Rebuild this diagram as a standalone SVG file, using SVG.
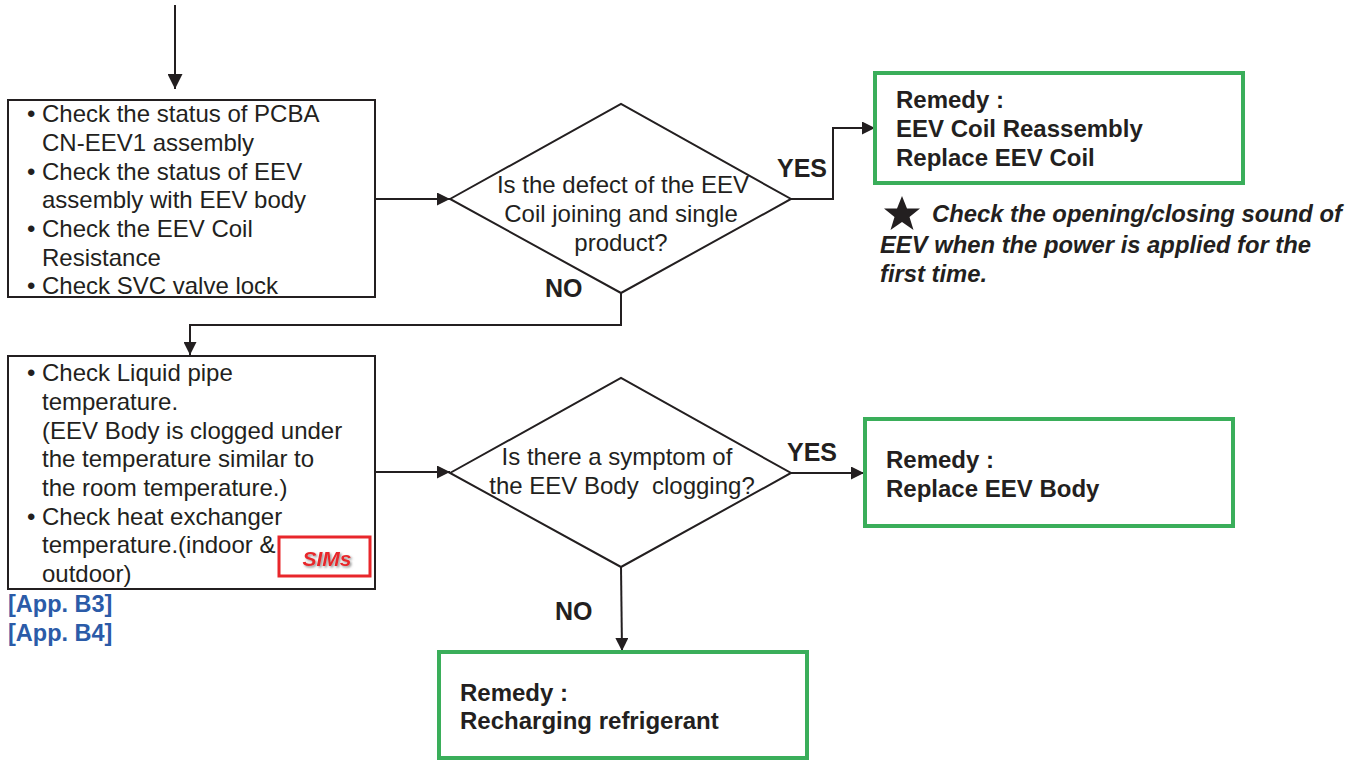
<svg xmlns="http://www.w3.org/2000/svg" width="1369" height="760" viewBox="0 0 1369 760">
<defs>
<marker id="arr" viewBox="0 0 10 10" refX="10" refY="5" markerWidth="14" markerHeight="13" markerUnits="userSpaceOnUse" orient="auto">
<path d="M0,0 L10,5 L0,10 z" fill="#231f20"/>
</marker>
<marker id="arrL" viewBox="0 0 10 10" refX="10" refY="5" markerWidth="16" markerHeight="15" markerUnits="userSpaceOnUse" orient="auto">
<path d="M0,0 L10,5 L0,10 z" fill="#231f20"/>
</marker>
<filter id="sh" x="-10%" y="-10%" width="130%" height="140%">
<feDropShadow dx="1.5" dy="1.5" stdDeviation="0.8" flood-color="#777" flood-opacity="0.8"/>
</filter>
</defs>
<style>
.box{fill:#fff;stroke:#231f20;stroke-width:2}
.rem{fill:#fff;stroke:#3aae5a;stroke-width:4}
.t{font-family:"Liberation Sans",Arial,sans-serif;font-size:24px;fill:#231f20}
.b{font-family:"Liberation Sans",Arial,sans-serif;font-size:24px;font-weight:bold;fill:#231f20}
.lbl{font-family:"Liberation Sans",Arial,sans-serif;font-size:25px;font-weight:bold;fill:#231f20}
.note{font-family:"Liberation Sans",Arial,sans-serif;font-size:23.8px;font-weight:bold;font-style:italic;fill:#231f20}
.app{font-family:"Liberation Sans",Arial,sans-serif;font-size:23.5px;font-weight:bold;fill:#2b5ba8}
.ln{fill:none;stroke:#231f20;stroke-width:2}
</style>
<rect width="1369" height="760" fill="#fff"/>

<g id="connectors">
<path class="ln" d="M175,5 V89" marker-end="url(#arrL)"/>
<path class="ln" d="M375,199 H450" marker-end="url(#arr)"/>
<path class="ln" d="M791,199 H833 V128 H875" marker-end="url(#arr)"/>
<path class="ln" d="M621,293 V325 H190 V355" marker-end="url(#arr)"/>
<path class="ln" d="M375,472 H450" marker-end="url(#arr)"/>
<path class="ln" d="M791,473 H864" marker-end="url(#arr)"/>
<path class="ln" d="M621,567 L622,651" marker-end="url(#arr)"/>
<text class="lbl" x="777" y="177">YES</text>
<text class="lbl" x="545" y="297">NO</text>
<text class="lbl" x="787" y="461">YES</text>
<text class="lbl" x="555" y="620">NO</text>
</g>

<g id="check1">
<rect class="box" x="8" y="100" width="367" height="197"/>
<text class="t"><tspan x="27" y="122">•</tspan><tspan x="42" y="122">Check the status of PCBA</tspan><tspan x="42" y="151">CN-EEV1 assembly</tspan><tspan x="27" y="180">•</tspan><tspan x="42" y="180">Check the status of EEV</tspan><tspan x="42" y="208">assembly with EEV body</tspan><tspan x="27" y="237">•</tspan><tspan x="42" y="237">Check the EEV Coil</tspan><tspan x="42" y="266">Resistance</tspan><tspan x="27" y="294">•</tspan><tspan x="42" y="294">Check SVC valve lock</tspan></text>
</g>

<g id="decision1">
<polygon class="box" points="450,199 621,104 791,199 621,293"/>
<text class="t" text-anchor="middle"><tspan x="623" y="193">Is the defect of the EEV</tspan><tspan x="621" y="222">Coil joining and single</tspan><tspan x="621" y="251">product?</tspan></text>
</g>

<g id="remedy1">
<rect class="rem" x="875" y="73" width="368" height="110"/>
<text class="b"><tspan x="896" y="108">Remedy :</tspan><tspan x="896" y="137">EEV Coil Reassembly</tspan><tspan x="896" y="166">Replace EEV Coil</tspan></text>
</g>

<g id="note">
<polygon points="902,196 907,208.5 920,208.5 909.5,217 913.5,230 902,222 890.5,230 894.5,217 884,208.5 897,208.5" fill="#231f20"/>
<text class="note"><tspan x="932" y="222">Check the opening/closing sound of</tspan><tspan x="880" y="253">EEV when the power is applied for the</tspan><tspan x="880" y="282">first time.</tspan></text>
</g>

<g id="check2">
<rect class="box" x="8" y="356" width="367" height="233"/>
<text class="t"><tspan x="27" y="381">•</tspan><tspan x="42" y="381">Check Liquid pipe</tspan><tspan x="42" y="410">temperature.</tspan><tspan x="42" y="439">(EEV Body is clogged under</tspan><tspan x="42" y="467">the temperature similar to</tspan><tspan x="42" y="496">the room temperature.)</tspan><tspan x="27" y="525">•</tspan><tspan x="42" y="525">Check heat exchanger</tspan><tspan x="42" y="553">temperature.(indoor &amp;</tspan><tspan x="42" y="582">outdoor)</tspan></text>
</g>

<g id="sims">
<rect x="279" y="537" width="91" height="39" fill="#fff" stroke="#e8262b" stroke-width="3"/>
<text x="327" y="566" text-anchor="middle" filter="url(#sh)" style="font-family:'Liberation Sans',Arial,sans-serif;font-size:21px;font-weight:bold;font-style:italic;fill:#e8262b">SIMs</text>
</g>

<g id="apps">
<text class="app"><tspan x="8" y="612">[App. B3]</tspan><tspan x="8" y="641">[App. B4]</tspan></text>
</g>

<g id="decision2">
<polygon class="box" points="450,473 621,378 791,473 621,567"/>
<text class="t" text-anchor="middle"><tspan x="617" y="465">Is there a symptom of</tspan><tspan x="622" y="494" xml:space="preserve">the EEV Body  clogging?</tspan></text>
</g>

<g id="remedy2">
<rect class="rem" x="865" y="419" width="368" height="107"/>
<text class="b"><tspan x="886" y="468">Remedy :</tspan><tspan x="886" y="497">Replace EEV Body</tspan></text>
</g>

<g id="remedy3">
<rect class="rem" x="439" y="652" width="368" height="106"/>
<text class="b"><tspan x="460" y="701">Remedy :</tspan><tspan x="460" y="729">Recharging refrigerant</tspan></text>
</g>
</svg>
